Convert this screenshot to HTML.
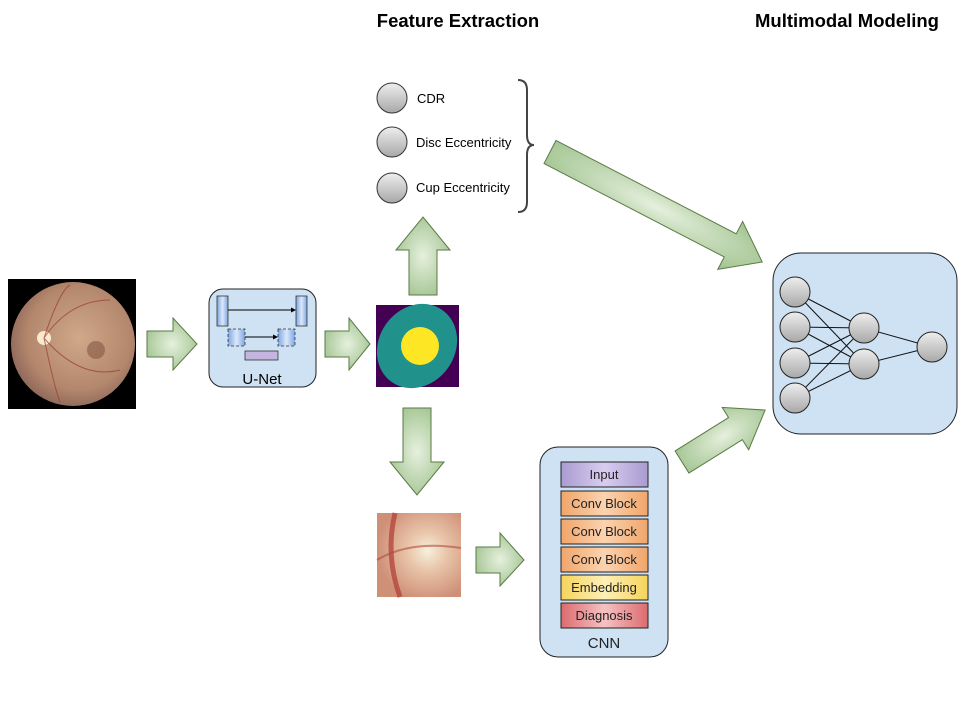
<!DOCTYPE html>
<html><head><meta charset="utf-8"><style>
html,body{margin:0;padding:0;background:#fff;}
svg{display:block;font-family:"Liberation Sans",Arial,sans-serif;}
</style></head><body>
<svg width="960" height="720" viewBox="0 0 960 720" xmlns="http://www.w3.org/2000/svg">
<defs>
<radialGradient id="ag" cx="50%" cy="50%" r="60%"><stop offset="0" stop-color="#e6f0de"/><stop offset="1" stop-color="#9fc28d"/></radialGradient>
<linearGradient id="nodeg" x1="0" y1="0" x2="0" y2="1"><stop offset="0" stop-color="#eeeeee"/><stop offset="1" stop-color="#a8a8a8"/></linearGradient>
<radialGradient id="fund" cx="55%" cy="45%" r="60%"><stop offset="0" stop-color="#d0a88a"/><stop offset="0.7" stop-color="#b3876c"/><stop offset="1" stop-color="#8a6458"/></radialGradient>
<radialGradient id="crop" cx="60%" cy="45%" r="60%"><stop offset="0" stop-color="#f6f0dc"/><stop offset="0.4" stop-color="#e8c4a8"/><stop offset="1" stop-color="#cf9078"/></radialGradient>
<linearGradient id="gin" x1="0" y1="0" x2="1" y2="0"><stop offset="0" stop-color="#a99bd0"/><stop offset="0.5" stop-color="#d8cdf0"/><stop offset="1" stop-color="#a99bd0"/></linearGradient>
<linearGradient id="gconv" x1="0" y1="0" x2="1" y2="0"><stop offset="0" stop-color="#f0a56a"/><stop offset="0.5" stop-color="#fbd3b0"/><stop offset="1" stop-color="#f0a56a"/></linearGradient>
<linearGradient id="gemb" x1="0" y1="0" x2="1" y2="0"><stop offset="0" stop-color="#f6d35a"/><stop offset="0.5" stop-color="#fdf0b8"/><stop offset="1" stop-color="#f6d35a"/></linearGradient>
<linearGradient id="gdia" x1="0" y1="0" x2="1" y2="0"><stop offset="0" stop-color="#dc6a6e"/><stop offset="0.5" stop-color="#f5c3c3"/><stop offset="1" stop-color="#dc6a6e"/></linearGradient>
<linearGradient id="ublue" x1="0" y1="0" x2="1" y2="0"><stop offset="0" stop-color="#7ea6e0"/><stop offset="0.5" stop-color="#dbe8fb"/><stop offset="1" stop-color="#7ea6e0"/></linearGradient>
</defs>

<text x="458" y="27" font-size="18.5" font-weight="bold" text-anchor="middle">Feature Extraction</text>
<text x="847" y="27" font-size="18.5" font-weight="bold" text-anchor="middle">Multimodal Modeling</text>

<!-- fundus -->
<rect x="8" y="279" width="128" height="130" fill="#000"/>
<circle cx="73" cy="344" r="62" fill="url(#fund)"/>
<circle cx="44" cy="338" r="7" fill="#fff4d8" opacity="0.9"/>
<circle cx="96" cy="350" r="9" fill="#7a4a38" opacity="0.5"/>
<g stroke="#9a3a30" stroke-width="1" fill="none" opacity="0.7">
<path d="M44 338 Q70 300 110 300"/><path d="M44 338 Q80 380 120 370"/><path d="M44 338 Q60 290 70 285"/><path d="M44 338 Q55 390 60 402"/>
</g>

<!-- arrow 1 -->
<path d="M147 331 H173 V318 L197 344 L173 370 V357 H147 Z" fill="url(#ag)" stroke="#5a7a46" stroke-width="1"/>

<!-- U-Net -->
<rect x="209" y="289" width="107" height="98" rx="14" fill="#cfe2f3" stroke="#222" stroke-width="1"/>
<rect x="217" y="296" width="11" height="30" fill="url(#ublue)" stroke="#333" stroke-width="0.8"/>
<rect x="296" y="296" width="11" height="30" fill="url(#ublue)" stroke="#333" stroke-width="0.8"/>
<line x1="228" y1="310" x2="293" y2="310" stroke="#000"/><path d="M296 310 l-5 -2.5 v5 z"/>
<rect x="228" y="329" width="17" height="17" fill="url(#ublue)" stroke="#333" stroke-dasharray="3,2" stroke-width="0.8"/>
<rect x="278" y="329" width="17" height="17" fill="url(#ublue)" stroke="#333" stroke-dasharray="3,2" stroke-width="0.8"/>
<line x1="245" y1="337" x2="275" y2="337" stroke="#000"/><path d="M278 337 l-5 -2.5 v5 z"/>
<rect x="245" y="351" width="33" height="9" fill="#c3b4e0" stroke="#333" stroke-width="0.8"/>
<text x="262" y="384" font-size="15" text-anchor="middle">U-Net</text>

<!-- arrow 2 -->
<path d="M325 331 H349 V318 L370 344 L349 370 V357 H325 Z" fill="url(#ag)" stroke="#5a7a46" stroke-width="1"/>

<!-- segmentation -->
<rect x="376" y="305" width="83" height="82" fill="#440154"/>
<ellipse cx="417" cy="346" rx="38" ry="44" transform="rotate(35 417 346)" fill="#21918c"/>
<circle cx="420" cy="346" r="19" fill="#fde725"/>

<!-- up arrow -->
<path d="M409 295 V250 H396 L423 217 L450 250 H437 V295 Z" fill="url(#ag)" stroke="#5a7a46" stroke-width="1"/>
<!-- down arrow -->
<path d="M403 408 V462 H390 L417 495 L444 462 H431 V408 Z" fill="url(#ag)" stroke="#5a7a46" stroke-width="1"/>

<!-- features -->
<g stroke="#333" stroke-width="1" fill="url(#nodeg)">
<circle cx="392" cy="98" r="15"/><circle cx="392" cy="142" r="15"/><circle cx="392" cy="188" r="15"/>
</g>
<text x="417" y="103" font-size="13">CDR</text>
<text x="416" y="147" font-size="13">Disc Eccentricity</text>
<text x="416" y="192" font-size="13">Cup Eccentricity</text>
<path d="M518 80 Q527 80 527 90 V135 Q527 145 534 145 Q527 145 527 155 V202 Q527 212 518 212" fill="none" stroke="#444" stroke-width="2"/>

<!-- diagonal top arrow -->
<g transform="translate(550 152) rotate(27.4)">
<path d="M0 -13 H203 V-27 L239 0 L203 27 V13 H0 Z" fill="url(#ag)" stroke="#5a7a46" stroke-width="1"/>
</g>
<!-- diagonal bottom arrow -->
<g transform="translate(682 462) rotate(-32)">
<path d="M0 -13 H63 V-25 L98 0 L63 25 V13 H0 Z" fill="url(#ag)" stroke="#5a7a46" stroke-width="1"/>
</g>

<!-- crop -->
<rect x="377" y="513" width="84" height="84" fill="url(#crop)"/>
<path d="M395 513 Q385 555 400 597" stroke="#b03a35" stroke-width="5" fill="none" opacity="0.7"/>
<path d="M377 560 Q410 540 461 548" stroke="#b04a40" stroke-width="2" fill="none" opacity="0.6"/>

<!-- arrow to CNN -->
<path d="M476 547 H500 V533 L524 560 L500 586 V573 H476 Z" fill="url(#ag)" stroke="#5a7a46" stroke-width="1"/>

<!-- CNN -->
<rect x="540" y="447" width="128" height="210" rx="18" fill="#cfe2f3" stroke="#222" stroke-width="1"/>
<g stroke="#222" stroke-width="1" font-size="13">
<rect x="561" y="462" width="87" height="25" fill="url(#gin)"/>
<rect x="561" y="491" width="87" height="25" fill="url(#gconv)"/>
<rect x="561" y="519" width="87" height="25" fill="url(#gconv)"/>
<rect x="561" y="547" width="87" height="25" fill="url(#gconv)"/>
<rect x="561" y="575" width="87" height="25" fill="url(#gemb)"/>
<rect x="561" y="603" width="87" height="25" fill="url(#gdia)"/>
</g>
<g font-size="13" text-anchor="middle" fill="#222">
<text x="604" y="479">Input</text>
<text x="604" y="508">Conv Block</text>
<text x="604" y="536">Conv Block</text>
<text x="604" y="564">Conv Block</text>
<text x="604" y="592">Embedding</text>
<text x="604" y="620">Diagnosis</text>
<text x="604" y="648" font-size="15">CNN</text>
</g>

<!-- NN -->
<rect x="773" y="253" width="184" height="181" rx="28" fill="#cfe2f3" stroke="#222" stroke-width="1"/>
<g stroke="#111" stroke-width="1">
<line x1="795" y1="292" x2="864" y2="328"/><line x1="795" y1="292" x2="864" y2="364"/>
<line x1="795" y1="327" x2="864" y2="328"/><line x1="795" y1="327" x2="864" y2="364"/>
<line x1="795" y1="363" x2="864" y2="328"/><line x1="795" y1="363" x2="864" y2="364"/>
<line x1="795" y1="398" x2="864" y2="328"/><line x1="795" y1="398" x2="864" y2="364"/>
<line x1="864" y1="328" x2="932" y2="347"/><line x1="864" y1="364" x2="932" y2="347"/>
</g>
<g stroke="#222" stroke-width="1" fill="url(#nodeg)">
<circle cx="795" cy="292" r="15"/><circle cx="795" cy="327" r="15"/><circle cx="795" cy="363" r="15"/><circle cx="795" cy="398" r="15"/>
<circle cx="864" cy="328" r="15"/><circle cx="864" cy="364" r="15"/>
<circle cx="932" cy="347" r="15"/>
</g>
</svg>
</body></html>
